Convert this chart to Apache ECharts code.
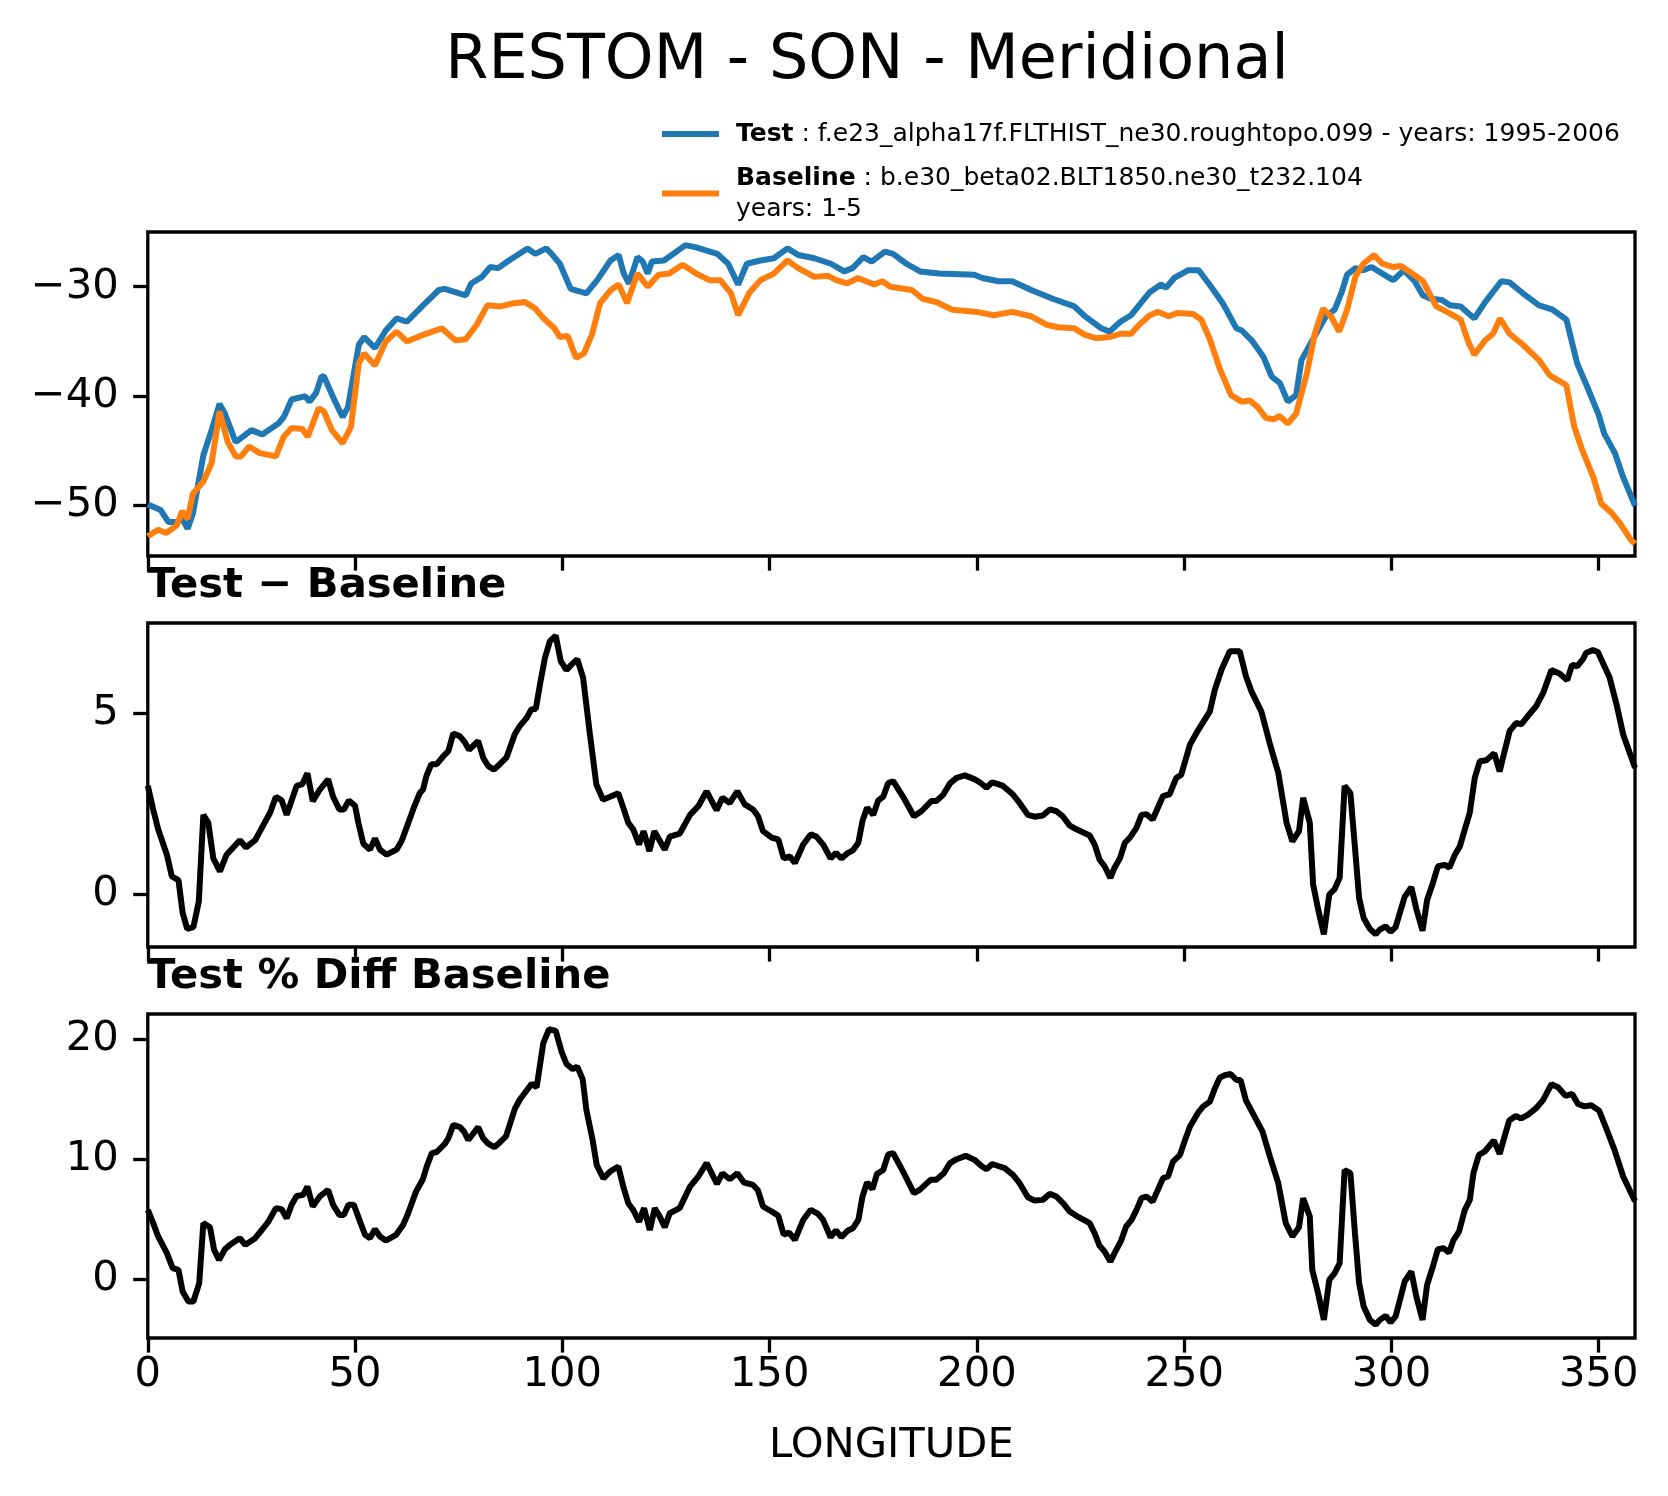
<!DOCTYPE html>
<html>
<head>
<meta charset="utf-8">
<script src="https://cdn.jsdelivr.net/npm/echarts@6/dist/echarts.min.js"></script>
<style>
  html, body { margin: 0; padding: 0; background: #fff; }
  #chart { width: 1668px; height: 1496px; }
</style>
</head>
<body>
<div id="chart"></div>
<script>
// longitude ticks shared by the three panels
const lonTicks = [0, 50, 100, 150, 200, 250, 300, 350]

// top panel: RESTOM for Test and Baseline
const testLon = [0, 3.1, 5, 7, 8.3, 9.6, 10.9, 13.4, 15.4, 17.3, 18.6, 21.2, 25, 27.6, 31.5, 32.8, 34.7, 38, 39, 40.6,
  41.9, 42.5, 45.2, 47, 48.3, 50.9, 52.2, 54.8, 57.4, 60, 62.5, 66.4, 70.2, 71.6, 76.7, 78, 80.6, 82.6, 84.5, 87.1,
  91.6, 93.5, 96.1, 97.4, 99.4, 102, 105.8, 108.4, 111.6, 113.6, 114.8, 116.1, 118.1, 119.4, 120.6, 121.6, 124.5, 129.7, 132.3, 134.8,
  137.4, 140, 142.4, 144.5, 147.8, 151, 154.3, 156.9, 160.8, 164.8, 168, 170, 172.6, 174.6, 177.8, 179.8, 183, 186.3, 190.9, 199.4,
  201.3, 205.2, 208.5, 213.1, 218.3, 223.5, 226.1, 230, 232, 234.6, 237.2, 239.1, 241.7, 244.4, 245.6, 247.6, 250.9, 253.5, 256.1, 259.3,
  262.6, 263.9, 266.5, 269.1, 271.1, 273.1, 275, 277, 278.3, 280.9, 284.2, 286.3, 288, 289.3, 291.3, 293.2, 295.2, 297.8, 300.4, 303,
  305.6, 307.6, 309.5, 312.1, 314.1, 316.7, 320, 322.6, 326.5, 328.5, 331.7, 335.6, 338.9, 342.2, 344.8, 347.4, 350, 351.3, 353.9, 355.9, 358.75]
const testVal = [-49.9, -50.4, -51.5, -51.5, -51.2, -52.1, -50.7, -45.4, -43.1, -40.7, -41.6, -44.2, -43.1, -43.5, -42.5, -41.9, -40.3, -40.0, -40.5, -39.7,
  -38.2, -38.2, -40.5, -41.9, -41.0, -35.3, -34.6, -35.6, -34.0, -32.9, -33.2, -31.7, -30.3, -30.2, -30.8, -29.7, -29.1, -28.2, -28.3, -27.6,
  -26.5, -27.0, -26.5, -27.0, -27.9, -30.2, -30.6, -29.4, -27.6, -27.1, -28.8, -29.7, -27.3, -27.7, -28.8, -27.7, -27.6, -26.2, -26.4, -26.7,
  -27.0, -27.9, -29.8, -27.9, -27.6, -27.4, -26.5, -27.1, -27.4, -27.9, -28.6, -28.3, -27.3, -27.7, -26.8, -27.0, -27.9, -28.6, -28.8, -28.9,
  -29.2, -29.5, -29.5, -30.3, -31.1, -31.8, -32.7, -33.8, -34.1, -33.2, -32.6, -31.7, -30.5, -29.8, -30.1, -29.2, -28.5, -28.5, -29.8, -31.5,
  -33.8, -34.0, -35.0, -36.4, -38.2, -38.8, -40.5, -39.9, -36.7, -34.9, -32.7, -32.1, -30.5, -28.9, -28.3, -28.5, -28.2, -28.8, -29.4, -28.5,
  -29.5, -30.8, -31.1, -31.2, -31.7, -31.8, -32.9, -31.4, -29.5, -29.6, -30.6, -31.7, -32.1, -33.0, -37.0, -39.3, -41.7, -43.4, -45.2, -47.4, -50.0]

const baseLon = [0, 2.5, 4.4, 7, 8.3, 9.6, 10.9, 13.4, 15.4, 17.3, 19.3, 21.2, 22.5, 24.4, 27, 30.9, 32.8, 34.7, 37.3, 38.6,
  41.2, 42.5, 44.4, 47, 49, 50.9, 52.2, 54.8, 57.4, 60, 62.5, 66.4, 70.9, 74.2, 76.7, 79.3, 81.9, 85.1, 88.4, 91,
  93.5, 95.5, 98.1, 99.4, 101.3, 103.3, 105.2, 107.2, 109.1, 111.7, 113.6, 115.6, 118.1, 120.6, 123.2, 125.8, 129, 132.3, 135.5, 138.1,
  140.7, 142.4, 145.2, 147.8, 151, 154.3, 156.9, 160.8, 164.1, 166.1, 168.7, 171.3, 175.2, 177.2, 179.1, 184.3, 186.9, 190.2, 194.1, 200,
  204.1, 208.5, 213.1, 217, 219.6, 223.5, 226.1, 228.7, 232, 234.6, 237.2, 239.1, 241.7, 243.7, 246.3, 248.3, 252.2, 254.1, 256.1, 258.7,
  261.3, 263.9, 265.8, 267.8, 269.7, 271.7, 273, 275, 277, 279.6, 281.5, 283.5, 285.4, 287.4, 289.3, 291.3, 293.2, 295.8, 297.8, 300.4,
  302.3, 304.3, 307.6, 310.8, 313.4, 316.7, 318.7, 320, 322.6, 324.5, 326.2, 328.5, 331.7, 335.6, 338.2, 342.2, 344.1, 346.1, 348.7, 350.6,
  353.2, 355.1, 357.7, 358.75]
const baseVal = [-52.8, -52.2, -52.5, -51.8, -50.5, -51.2, -48.9, -47.8, -46.1, -41.4, -44.2, -45.5, -45.5, -44.6, -45.2, -45.5, -43.7, -42.9, -43.0, -43.7,
  -41.1, -41.4, -43.1, -44.3, -42.8, -37.0, -36.1, -37.2, -35.0, -34.1, -35.0, -34.4, -33.8, -34.9, -34.8, -33.5, -31.7, -31.8, -31.5, -31.4,
  -32.0, -32.9, -33.8, -34.6, -34.5, -36.5, -36.1, -34.3, -31.5, -30.3, -29.8, -31.5, -28.8, -30.0, -28.9, -28.8, -28.0, -28.8, -29.4, -29.4,
  -30.6, -32.6, -30.5, -29.4, -28.8, -27.6, -28.3, -29.1, -29.0, -29.4, -29.7, -29.2, -29.8, -29.5, -30.0, -30.3, -31.1, -31.4, -32.1, -32.3,
  -32.6, -32.3, -32.7, -33.5, -33.7, -33.8, -34.4, -34.7, -34.6, -34.3, -34.3, -33.5, -32.6, -32.3, -32.7, -32.4, -32.5, -33.0, -34.7, -37.6,
  -39.9, -40.5, -40.4, -41.0, -42.0, -42.1, -41.8, -42.5, -41.6, -37.9, -34.3, -32.0, -32.7, -34.1, -32.1, -29.1, -27.9, -27.1, -27.9, -28.2,
  -28.1, -28.6, -29.5, -31.8, -32.3, -33.0, -35.2, -36.2, -34.9, -34.3, -32.9, -34.3, -35.3, -36.7, -38.1, -39.0, -42.8, -45.0, -47.4, -49.8,
  -50.7, -51.6, -53.1, -53.5]

// middle panel: Test - Baseline
const diffLon = [0, 1.3, 2.5, 4.6, 5.8, 7.4, 8.4, 9.5, 11, 12.3, 13.4, 14.6, 15.8, 17.4, 19, 20.6, 22.2, 23.7, 25.9, 27.5,
  29.5, 30.9, 32.3, 33.5, 34.7, 35.9, 37.3, 38.5, 39.8, 41.5, 43.5, 44.7, 46.2, 47.3, 48.5, 50, 50.8, 52, 53.6, 54.8,
  56, 57.6, 60, 61.2, 62.4, 64, 65.6, 66.4, 67.2, 68.4, 69.7, 71.3, 72.5, 73.7, 75.3, 76.5, 77.5, 79.7, 80.9, 82.1,
  83.5, 84.9, 86.5, 88.5, 89.7, 91.4, 92.5, 93.6, 94.6, 95.8, 97, 98.4, 99.6, 101, 102.2, 103.6, 105, 106.6, 108.2, 109.8,
  111.5, 113.5, 114.7, 115.9, 117.1, 118.5, 119.6, 121, 122.2, 123.1, 124.7, 125.9, 128.3, 130.8, 132.8, 134.8, 137.2, 138.6, 140.4, 142.2,
  144, 146, 147.2, 148.4, 150.5, 152.1, 153.4, 154.9, 156.1, 158.1, 159.9, 161.3, 162.9, 164.7, 166, 167.3, 168.9, 170.1, 171.4, 172.4,
  173.5, 175, 176.2, 177.4, 178.6, 179.8, 182.2, 184.8, 186.6, 189, 190.2, 191.9, 193.5, 195.1, 197.1, 199.5, 200.7, 202.3, 203.7, 205.1,
  206.3, 208.7, 210.3, 212.3, 213.9, 215.9, 217.6, 219.2, 220.8, 222.4, 224, 227.2, 228.4, 229.6, 230.8, 232.2, 233.2, 234.5, 235.7, 236.9,
  238.5, 239.7, 240.9, 242.4, 244.9, 246.5, 248.1, 249.3, 251.4, 253, 256.2, 257.4, 259, 261, 263.4, 264.9, 266.2, 268.6, 270.6, 272.7,
  274.7, 276.1, 277.7, 278.7, 280.3, 281.1, 282.3, 283.7, 285, 286.3, 287.5, 288.7, 290.1, 291.2, 292.2, 293.3, 294.8, 296.2, 297.2, 298.6,
  299.8, 301, 303.2, 304.8, 306, 307.5, 308.6, 310, 311.2, 312.9, 314, 315.3, 316.5, 318.9, 320.1, 321.3, 322.9, 324.8, 326.1, 327.3,
  328.5, 330.1, 331.3, 332.9, 334.9, 336.6, 338.6, 340.6, 342.4, 343.6, 344.8, 346.2, 347, 348.6, 349.8, 351.4, 352.6, 354.3, 355.9, 358.75]
const diffVal = [3.0, 2.35, 1.8, 1.1, 0.5, 0.4, -0.5, -0.95, -0.9, -0.2, 2.2, 1.98, 1.0, 0.64, 1.1, 1.3, 1.5, 1.3, 1.5, 1.84,
  2.26, 2.7, 2.6, 2.2, 2.6, 3.0, 3.05, 3.35, 2.58, 2.9, 3.18, 2.7, 2.35, 2.35, 2.6, 2.45, 1.98, 1.4, 1.24, 1.55,
  1.24, 1.1, 1.24, 1.47, 1.84, 2.35, 2.8, 2.9, 3.27, 3.6, 3.6, 3.82, 3.96, 4.45, 4.37, 4.2, 4.0, 4.24, 3.78, 3.55,
  3.45, 3.6, 3.78, 4.42, 4.65, 4.88, 5.11, 5.13, 5.8, 6.54, 7.0, 7.15, 6.45, 6.2, 6.35, 6.5, 5.99, 4.47, 3.04, 2.62,
  2.7, 2.8, 2.4, 1.98, 1.8, 1.38, 1.75, 1.2, 1.75, 1.57, 1.24, 1.6, 1.68, 2.2, 2.44, 2.85, 2.33, 2.67, 2.53, 2.85,
  2.49, 2.35, 2.16, 1.75, 1.57, 1.52, 1.0, 1.05, 0.87, 1.38, 1.66, 1.6, 1.38, 1.0, 1.15, 1.0, 1.15, 1.22, 1.43, 2.03,
  2.4, 2.2, 2.6, 2.7, 3.08, 3.13, 2.7, 2.16, 2.3, 2.58, 2.58, 2.76, 3.07, 3.22, 3.29, 3.18, 3.1, 2.95, 3.1, 3.05,
  3.0, 2.76, 2.53, 2.2, 2.15, 2.18, 2.35, 2.3, 2.15, 1.9, 1.8, 1.63, 1.38, 0.96, 0.78, 0.46, 0.74, 1.0, 1.43, 1.57,
  1.84, 2.2, 2.22, 2.07, 2.72, 2.77, 3.22, 3.31, 4.14, 4.47, 5.06, 5.66, 6.21, 6.72, 6.72, 6.03, 5.62, 5.06, 4.19, 3.36,
  1.98, 1.47, 1.75, 2.67, 1.98, 0.28, -0.4, -1.1, 0.0, 0.15, 0.46, 3.0, 2.8, 1.3, -0.1, -0.65, -0.95, -1.1, -0.97, -0.88,
  -1.03, -0.9, -0.06, 0.2, -0.4, -1.0, -0.15, 0.32, 0.78, 0.82, 0.74, 1.1, 1.33, 2.26, 3.22, 3.68, 3.71, 3.9, 3.4, 3.96,
  4.51, 4.74, 4.7, 4.93, 5.2, 5.57, 6.2, 6.1, 5.92, 6.35, 6.3, 6.5, 6.68, 6.75, 6.7, 6.3, 6.0, 5.25, 4.42, 3.5]

// bottom panel: Test % Diff Baseline
const pctLon = [0, 1.3, 2.5, 4.6, 6, 7.4, 8.4, 9.8, 11, 12.4, 13.4, 15, 16, 17.2, 18.6, 19.8, 21, 22.2, 23.5, 25.9,
  27.5, 29.1, 30.9, 32.3, 33.5, 34.7, 35.9, 37.5, 38.5, 39.8, 41.5, 43.5, 44.7, 46.2, 47.3, 48.4, 49.7, 51.2, 52.4, 53.6,
  54.8, 56, 57.4, 59.9, 61.6, 62.8, 64.7, 66.3, 67.3, 68.5, 69.7, 71.7, 72.5, 73.7, 75.3, 76.3, 77.3, 79.7, 80.9, 82.1,
  83.6, 84.9, 86.4, 88.6, 89.8, 91.2, 92.6, 93.8, 95.4, 96.8, 98.4, 99.8, 101, 102.5, 103.6, 104.9, 105.8, 107.3, 108.3, 109.9,
  111.5, 113.5, 114.7, 115.9, 117.1, 118.5, 119.7, 121.1, 122.3, 123.5, 124.7, 125.9, 128.3, 130.8, 132.8, 134.8, 137.3, 138.6, 140.4, 142.2,
  143.8, 146, 147.2, 148.4, 150.5, 152.1, 153.4, 154.7, 156.1, 158.1, 159.9, 161.7, 162.9, 164.7, 166, 167.3, 168.9, 170.1, 171.4, 172.4,
  173.5, 174.8, 175.9, 177.4, 178.6, 179.8, 182.2, 184.8, 186.2, 188.8, 190.2, 192, 193.5, 195.1, 197.3, 199.5, 201.1, 202.3, 203.7, 205.5,
  206.7, 208.7, 210.3, 212.3, 213.9, 215.9, 217.6, 219.2, 220.8, 222.4, 224, 227.2, 228.4, 229.6, 230.8, 232.2, 233.2, 234.8, 236, 237.3,
  238.5, 239.7, 240.9, 242.4, 244.9, 246.1, 247.3, 249, 250.2, 251.4, 253.4, 254.6, 256.2, 257.4, 258.6, 259.8, 261.2, 262.6, 263.6, 264.9,
  266.6, 268.9, 270.7, 272.7, 274.5, 276.1, 277.7, 278.7, 280.3, 280.9, 282.3, 283.7, 285, 286.3, 287.5, 288.7, 290.1, 291.2, 292.2, 293.3,
  294.8, 296.2, 297.2, 298.6, 299.8, 301, 303.2, 304.8, 306, 307.5, 308.6, 310, 311.2, 312.6, 313.9, 315, 316.3, 317.7, 318.9, 319.8,
  321.1, 322.5, 324.7, 326.1, 327.3, 328.4, 330, 331.3, 332.9, 334.9, 336.6, 338.6, 340.2, 342, 343.6, 345, 346.6, 348.2, 350.1, 351.8,
  353.8, 355.9, 358.75]
const pctVal = [5.78, 4.67, 3.56, 2.17, 0.92, 0.78, -1.03, -1.86, -1.86, -0.33, 4.67, 4.33, 2.44, 1.61, 2.5, 2.86, 3.14, 3.42, 2.86, 3.42,
  4.1, 4.8, 5.92, 5.83, 5.08, 6.2, 6.94, 7.03, 7.72, 6.06, 6.9, 7.44, 6.2, 5.36, 5.36, 6.2, 6.2, 4.8, 3.7, 3.42,
  4.17, 3.56, 3.22, 3.7, 4.53, 5.5, 7.3, 8.28, 9.4, 10.5, 10.6, 11.3, 11.75, 12.86, 12.67, 12.3, 11.6, 12.67, 11.75, 11.3,
  11.0, 11.4, 11.9, 14.25, 15.0, 15.64, 16.28, 16.0, 19.67, 20.83, 20.7, 18.97, 17.94, 17.5, 17.72, 16.67, 14.1, 11.6, 9.5, 8.4,
  8.97, 9.39, 7.72, 6.33, 5.78, 4.8, 5.92, 4.1, 5.92, 5.22, 4.33, 5.5, 5.92, 7.72, 8.56, 9.67, 7.94, 8.83, 8.33, 8.83,
  8.06, 7.86, 7.39, 6.06, 5.64, 5.28, 3.7, 3.89, 3.28, 4.94, 5.78, 5.44, 4.94, 3.5, 4.06, 3.5, 4.06, 4.25, 4.94, 6.89,
  8.06, 7.5, 8.78, 9.1, 10.4, 10.5, 8.97, 7.17, 7.44, 8.28, 8.28, 8.83, 9.67, 10.0, 10.28, 9.94, 9.44, 9.17, 9.6, 9.39,
  9.25, 8.7, 8.0, 6.83, 6.56, 6.61, 7.11, 6.89, 6.33, 5.64, 5.28, 4.67, 3.83, 2.78, 2.31, 1.47, 2.17, 3.22, 4.39, 4.94,
  5.78, 6.75, 6.89, 6.47, 8.42, 8.56, 9.8, 10.36, 11.6, 12.72, 13.9, 14.4, 14.8, 15.9, 16.8, 17.0, 17.1, 16.6, 16.6, 14.9,
  13.8, 12.3, 10.2, 8.0, 4.67, 3.56, 4.33, 6.75, 5.22, 0.78, -1.17, -3.39, -0.06, 0.5, 1.33, 9.1, 8.83, 3.83, -0.33, -2.28,
  -3.39, -3.8, -3.39, -3.06, -3.6, -3.1, -0.19, 0.64, -1.44, -3.39, -0.47, 1.06, 2.5, 2.58, 2.22, 3.28, 3.97, 5.78, 6.61, 8.89,
  10.36, 10.64, 11.56, 10.44, 11.9, 13.22, 13.6, 13.4, 13.7, 14.25, 14.94, 16.25, 16.0, 15.28, 15.44, 14.6, 14.4, 14.5, 14.05, 12.58,
  10.78, 8.56, 6.5]

const topTicks = [-50, -40, -30]
const diffTicks = [0, 5]
const pctTicks = [0, 10, 20]

const FONT = 'DejaVu Sans'
const TICK_FS = 41.7

function pairs(xs, ys) {
  return xs.map((x, i) => [x, ys[i]])
}

function fmt(v) {
  return v < 0 ? '\u2212' + Math.abs(v) : String(v)
}

function makeX(gridIndex, showLabels) {
  return {
    gridIndex: gridIndex,
    type: 'value',
    min: 0,
    max: 358.75,
    axisLine: { show: false, onZero: false },
    splitLine: { show: false },
    axisTick: {
      show: true, length: 14.6, customValues: lonTicks,
      lineStyle: { color: '#000', width: 3.3 }
    },
    axisLabel: {
      show: showLabels, customValues: lonTicks, margin: 16,
      color: '#000', fontFamily: FONT, fontSize: TICK_FS
    },
    name: showLabels ? 'LONGITUDE' : '',
    nameLocation: 'middle',
    nameGap: 87,
    nameTextStyle: { color: '#000', fontFamily: FONT, fontSize: TICK_FS }
  }
}

function makeY(gridIndex, min, max, ticks) {
  return {
    gridIndex: gridIndex,
    type: 'value',
    min: min,
    max: max,
    axisLine: { show: false, onZero: false },
    splitLine: { show: false },
    axisTick: {
      show: true, length: 14.6, customValues: ticks,
      lineStyle: { color: '#000', width: 3.3 }
    },
    axisLabel: {
      customValues: ticks, margin: 29, formatter: fmt,
      color: '#000', fontFamily: FONT, fontSize: TICK_FS
    }
  }
}

function makeGrid(top) {
  return {
    left: 147.8, right: 33, top: top, height: 324,
    show: true, borderColor: '#000', borderWidth: 3.3, backgroundColor: 'transparent'
  }
}

const legendText = {
  Test: '{b|Test} : f.e23_alpha17f.FLTHIST_ne30.roughtopo.099 - years: 1995-2006',
  Baseline: '{b|Baseline} : b.e30_beta02.BLT1850.ne30_t232.104\nyears: 1-5'
}

function makeLegend(name, top) {
  return {
    data: [name],
    orient: 'vertical',
    left: 662,
    top: top,
    padding: 0,
    icon: 'rect',
    itemWidth: 57,
    itemHeight: 6,
    formatter: n => legendText[n],
    textStyle: {
      color: '#000', fontFamily: FONT, fontSize: 25, lineHeight: 31,
      padding: [0, 0, 0, 12],
      rich: { b: { fontWeight: 'bold', fontFamily: FONT, fontSize: 25, lineHeight: 31 } }
    }
  }
}

const titleStyle = { color: '#000', fontFamily: FONT, fontWeight: 'bold', fontSize: 41.7, lineHeight: 41.7 }

const option = {
  backgroundColor: '#fff',
  animation: false,
  title: [
    {
      text: 'RESTOM - SON - Meridional', left: 867, top: 31, textAlign: 'center', padding: 0,
      textStyle: { color: '#000', fontFamily: FONT, fontWeight: 'normal', fontSize: 62, lineHeight: 62 }
    },
    { text: 'Test \u2212 Baseline', left: 147, top: 565, padding: 0, textStyle: titleStyle },
    { text: 'Test % Diff Baseline', left: 147, top: 956, padding: 0, textStyle: titleStyle }
  ],
  legend: [makeLegend('Test', 118.5), makeLegend('Baseline', 162.5)],
  grid: [makeGrid(232), makeGrid(623), makeGrid(1014)],
  xAxis: [makeX(0, false), makeX(1, false), makeX(2, true)],
  yAxis: [
    makeY(0, -54.6, -25.0, topTicks),
    makeY(1, -1.45, 7.5, diffTicks),
    makeY(2, -4.9, 22.1, pctTicks)
  ],
  series: [
    {
      name: 'Test', type: 'line', xAxisIndex: 0, yAxisIndex: 0, symbol: 'none',
      data: pairs(testLon, testVal),
      lineStyle: { color: '#1f77b4', width: 6 }, itemStyle: { color: '#1f77b4' }
    },
    {
      name: 'Baseline', type: 'line', xAxisIndex: 0, yAxisIndex: 0, symbol: 'none',
      data: pairs(baseLon, baseVal),
      lineStyle: { color: '#ff7f0e', width: 6 }, itemStyle: { color: '#ff7f0e' }
    },
    {
      name: 'Test - Baseline', type: 'line', xAxisIndex: 1, yAxisIndex: 1, symbol: 'none',
      data: pairs(diffLon, diffVal),
      lineStyle: { color: '#000', width: 6 }, itemStyle: { color: '#000' }
    },
    {
      name: 'Test % Diff Baseline', type: 'line', xAxisIndex: 2, yAxisIndex: 2, symbol: 'none',
      data: pairs(pctLon, pctVal),
      lineStyle: { color: '#000', width: 6 }, itemStyle: { color: '#000' }
    }
  ]
}

const chart = echarts.init(document.getElementById('chart'), null, { renderer: 'canvas' })
chart.setOption(option)
</script>
</body>
</html>
